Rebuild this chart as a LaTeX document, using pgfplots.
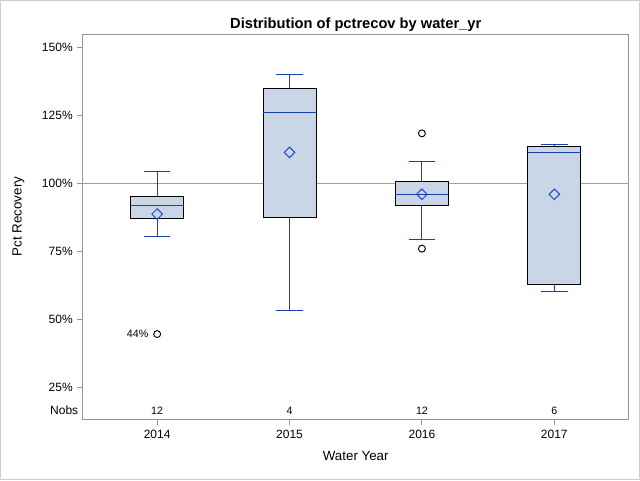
\documentclass[border=0pt]{standalone}
\usepackage{pgfplots}
\pgfplotsset{compat=1.18}
\usepgfplotslibrary{statistics}
\usepackage{fontspec}
\setmainfont{Liberation Sans}
\definecolor{boxfill}{RGB}{202,213,229}
\definecolor{wblue}{RGB}{20,66,170}
\definecolor{mblue}{RGB}{30,76,200}
\definecolor{framegray}{RGB}{150,150,150}
\definecolor{refgray}{RGB}{160,160,160}
\definecolor{bordergray}{RGB}{205,205,205}
\begin{document}
\begin{tikzpicture}
\path[use as bounding box] (-62.25pt,-45.375pt) rectangle (417.75pt,314.625pt);
\draw[bordergray, line width=0.75pt] (-61.875pt,-45pt) rectangle (417.375pt,314.25pt);
\begin{axis}[
  at={(0,0)}, anchor=south west,
  scale only axis,
  width=409.1pt, height=289.1pt,
  xmin=-0.56, xmax=3.56,
  ymin=13.2, ymax=154.9,
  axis line style={framegray, line width=0.75pt},
  tick style={framegray, line width=0.75pt},
  tick align=outside,
  tick pos=left,
  major tick length=4.2pt,
  xtick={0,1,2,3},
  xticklabels={2014,2015,2016,2017},
  ytick={25,50,75,100,125,150},
  yticklabels={25\%,50\%,75\%,100\%,125\%,150\%},
  tick label style={font=\fontsize{9}{10}\selectfont, text=black},
  /pgf/number format/assume math mode=true,
  boxplot/draw direction=y,
  boxplot/every box/.style={draw=black},
  boxplot/every whisker/.style={draw=wblue},
  boxplot/every median/.style={draw=wblue},
  boxplot/draw/lower whisker/.code={%
    \draw[wblue, line width=0.75pt]
      (boxplot box cs:\pgfplotsboxplotvalue{lower whisker},0.5) -- (boxplot box cs:\pgfplotsboxplotvalue{lower quartile},0.5)
      (boxplot whisker cs:\pgfplotsboxplotvalue{lower whisker},0) -- (boxplot whisker cs:\pgfplotsboxplotvalue{lower whisker},1);
  },
  boxplot/draw/upper whisker/.code={%
    \draw[wblue, line width=0.75pt]
      (boxplot box cs:\pgfplotsboxplotvalue{upper whisker},0.5) -- (boxplot box cs:\pgfplotsboxplotvalue{upper quartile},0.5)
      (boxplot whisker cs:\pgfplotsboxplotvalue{upper whisker},0) -- (boxplot whisker cs:\pgfplotsboxplotvalue{upper whisker},1);
  },
  clip=false,
]
% reference line
\addplot[refgray, line width=0.75pt] coordinates {(-0.56,100) (3.56,100)};
% boxes
\addplot+[boxplot prepared={draw position=0, lower whisker=80.5, lower quartile=87.1, median=92.0, upper quartile=95.2, upper whisker=104.3, box extend=0.4, whisker extend=0.2}, mark=none, draw=wblue, fill=boxfill, line width=0.75pt] coordinates {};
\addplot+[boxplot prepared={draw position=1, lower whisker=53.1, lower quartile=87.6, median=126.1, upper quartile=134.9, upper whisker=140.1, box extend=0.4, whisker extend=0.2}, mark=none, draw=wblue, fill=boxfill, line width=0.75pt] coordinates {};
\addplot+[boxplot prepared={draw position=2, lower whisker=79.2, lower quartile=92.0, median=96.0, upper quartile=100.6, upper whisker=107.9, box extend=0.4, whisker extend=0.2}, mark=none, draw=wblue, fill=boxfill, line width=0.75pt] coordinates {};
\addplot+[boxplot prepared={draw position=3, lower whisker=60.3, lower quartile=62.9, median=111.4, upper quartile=113.7, upper whisker=114.3, box extend=0.4, whisker extend=0.2}, mark=none, draw=wblue, fill=boxfill, line width=0.75pt] coordinates {};
% means
\addplot[only marks, mark=square, mark size=2.8pt, mark options={rotate=45, draw=mblue, fill=none, line width=0.75pt}] coordinates {(0,88.7) (1,111.4) (2,96.0) (3,96.0)};
% outliers
\addplot[only marks, mark=o, mark size=2.6pt, mark options={draw=black, line width=0.7pt}] coordinates {(0,44.6) (2,118.4) (2,76.0)};
% outlier label
\node[anchor=base east, font=\fontsize{8}{9}\selectfont, inner sep=0pt] at (axis cs:0,44.6) [xshift=-6.4pt, yshift=-2.6pt] {44\%};
% Nobs
\node[anchor=base east, font=\fontsize{9}{10}\selectfont, inner sep=0pt] at (rel axis cs:0,0) [xshift=-3.4pt, yshift=3.6pt] {Nobs};
\node[anchor=base, font=\fontsize{8}{9}\selectfont, inner sep=0pt] at (axis cs:0,13.2) [yshift=3.6pt] {12};
\node[anchor=base, font=\fontsize{8}{9}\selectfont, inner sep=0pt] at (axis cs:1,13.2) [yshift=3.6pt] {4};
\node[anchor=base, font=\fontsize{8}{9}\selectfont, inner sep=0pt] at (axis cs:2,13.2) [yshift=3.6pt] {12};
\node[anchor=base, font=\fontsize{8}{9}\selectfont, inner sep=0pt] at (axis cs:3,13.2) [yshift=3.6pt] {6};
\end{axis}
% title and labels
\node[anchor=base, font=\fontsize{11}{13}\selectfont\bfseries, inner sep=0pt] at (204.56pt,293.4pt) {Distribution of pctrecov by water\_yr};
\node[anchor=base, font=\fontsize{10}{12}\selectfont, inner sep=0pt] at (204.56pt,-31.1pt) {Water Year};
\node[rotate=90, font=\fontsize{10}{12}\selectfont, inner sep=0pt] at (-48.4pt,152.25pt) {Pct Recovery};
\end{tikzpicture}
\end{document}
